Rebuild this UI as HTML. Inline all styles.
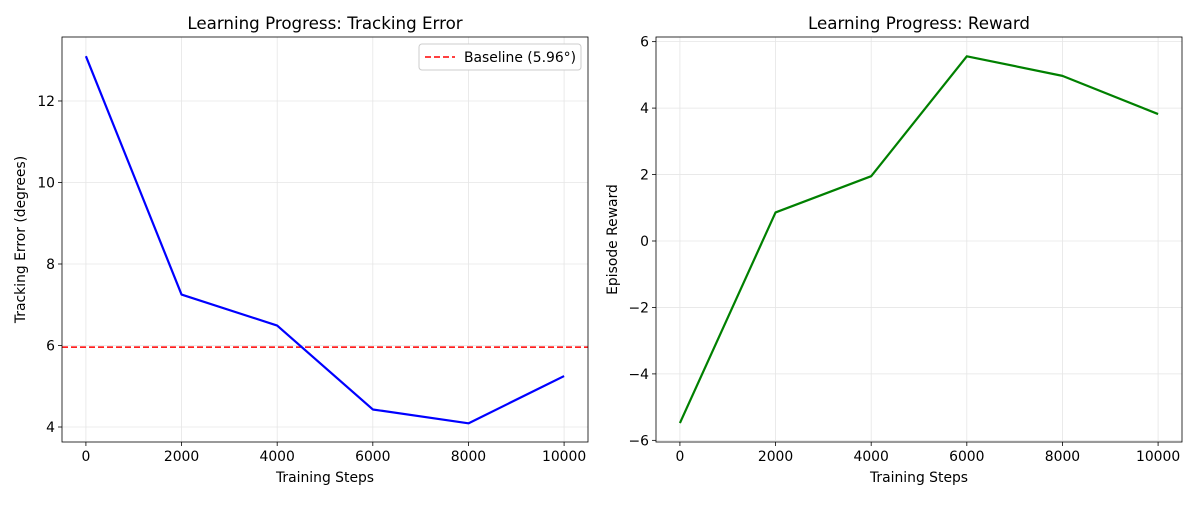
<!DOCTYPE html>
<html><head><meta charset="utf-8"><style>
body{margin:0;background:#fff;}
svg text{font-family:"DejaVu Sans","Liberation Sans",sans-serif;fill:#000;}
</style></head><body>
<svg id="chart" width="1200" height="500" xmlns="http://www.w3.org/2000/svg"></svg>
<script>
const steps = [0, 2000, 4000, 6000, 8000, 10000];
const errorValues = [13.1, 7.25, 6.49, 4.43, 4.09, 5.25];
const rewardValues = [-5.48, 0.86, 1.95, 5.56, 4.97, 3.82];
const baselineValue = 5.96;
const xTicks = [0, 2000, 4000, 6000, 8000, 10000];
const errorTicks = [4, 6, 8, 10, 12];
const rewardTicks = [-6, -4, -2, 0, 2, 4, 6];

const NS = "http://www.w3.org/2000/svg";
const svg = document.getElementById("chart");
function mk(tag, attrs, parent) {
  const e = document.createElementNS(NS, tag);
  for (const k in attrs) e.setAttribute(k, attrs[k]);
  (parent || svg).appendChild(e);
  return e;
}
function panel(opt) {
  const g = mk("g", {});
  
  
  const L = opt.x0, R = opt.x1, T = 37, B = 442;
  const sx = v => L + (v - opt.xmin) / (opt.xmax - opt.xmin) * (R - L);
  const sy = v => B - (v - opt.ymin) / (opt.ymax - opt.ymin) * (B - T);
  xTicks.forEach(t => {
    mk("line", {x1: sx(t), x2: sx(t), y1: T, y2: B, stroke: "#e6e6e6", "stroke-width": 0.8}, g);
    mk("line", {x1: sx(t), x2: sx(t), y1: B, y2: B + 4, stroke: "#000", "stroke-width": 0.8}, g);
    const tx = mk("text", {x: sx(t), y: B + 19, "text-anchor": "middle", "font-size": 13.9}, g);
    tx.textContent = t;
    
    
  });
  opt.yTicks.forEach(t => {
    mk("line", {x1: L, x2: R, y1: sy(t), y2: sy(t), stroke: "#e6e6e6", "stroke-width": 0.8}, g);
    mk("line", {x1: L - 4, x2: L, y1: sy(t), y2: sy(t), stroke: "#000", "stroke-width": 0.8}, g);
    const tx = mk("text", {x: L - 7, y: sy(t) + 5, "text-anchor": "end", "font-size": 13.9}, g);
    tx.textContent = t < 0 ? "\u2212" + Math.abs(t) : t;
    
    
  });
  if (opt.baseline !== undefined) {
    const bl = mk("line", {x1: L, x2: R, y1: sy(opt.baseline), y2: sy(opt.baseline), stroke: "#ff0000", "stroke-width": 1.5, "stroke-dasharray": "6,3"}, g);
    
    
  }
  const pts = steps.map((s, i) => sx(s) + "," + sy(opt.values[i])).join(" ");
  const pl = mk("polyline", {points: pts, fill: "none", stroke: opt.color, "stroke-width": 2.2, "stroke-linejoin": "round"}, g);
  
  
  mk("rect", {x: L, y: T, width: R - L, height: B - T, fill: "none", stroke: "#000", "stroke-width": 0.8}, g);
  const ti = mk("text", {x: (L + R) / 2, y: 29, "text-anchor": "middle", "font-size": 16.7}, g);
  ti.textContent = opt.title;
  
  
  const xl = mk("text", {x: (L + R) / 2, y: 482, "text-anchor": "middle", "font-size": 13.9}, g);
  xl.textContent = "Training Steps";
  
  
  const yl = mk("text", {x: 0, y: 0, "text-anchor": "middle", "font-size": 13.9, transform: `translate(${opt.ylx},${(T + B) / 2}) rotate(-90)`}, g);
  yl.textContent = opt.ylabel;
  
  
  return {sx, sy, g};
}
panel({name: "tracking-error-panel", x0: 62, x1: 588, xmin: -500, xmax: 10500, ymin: 3.632, ymax: 13.57,
  yTicks: errorTicks, values: errorValues, color: "#0000ff", baseline: baselineValue, lineName: "tracking-error-line",
  title: "Learning Progress: Tracking Error", ylabel: "Tracking Error (degrees)", ylx: 25});
panel({name: "reward-panel", x0: 656, x1: 1182, xmin: -500, xmax: 10500, ymin: -6.05, ymax: 6.14,
  yTicks: rewardTicks, values: rewardValues, color: "#008000", lineName: "reward-line",
  title: "Learning Progress: Reward", ylabel: "Episode Reward", ylx: 617});
const lg = mk("g", {});


mk("rect", {x: 419, y: 44, width: 162, height: 26, rx: 3, fill: "#fff", stroke: "#cccccc", "stroke-width": 1}, lg);
mk("line", {x1: 425, x2: 455, y1: 57, y2: 57, stroke: "#ff0000", "stroke-width": 1.5, "stroke-dasharray": "6,3"}, lg);
const lt = mk("text", {x: 464, y: 62, "font-size": 13.9}, lg);
lt.textContent = "Baseline (5.96\u00b0)";


</script>
</body></html>
